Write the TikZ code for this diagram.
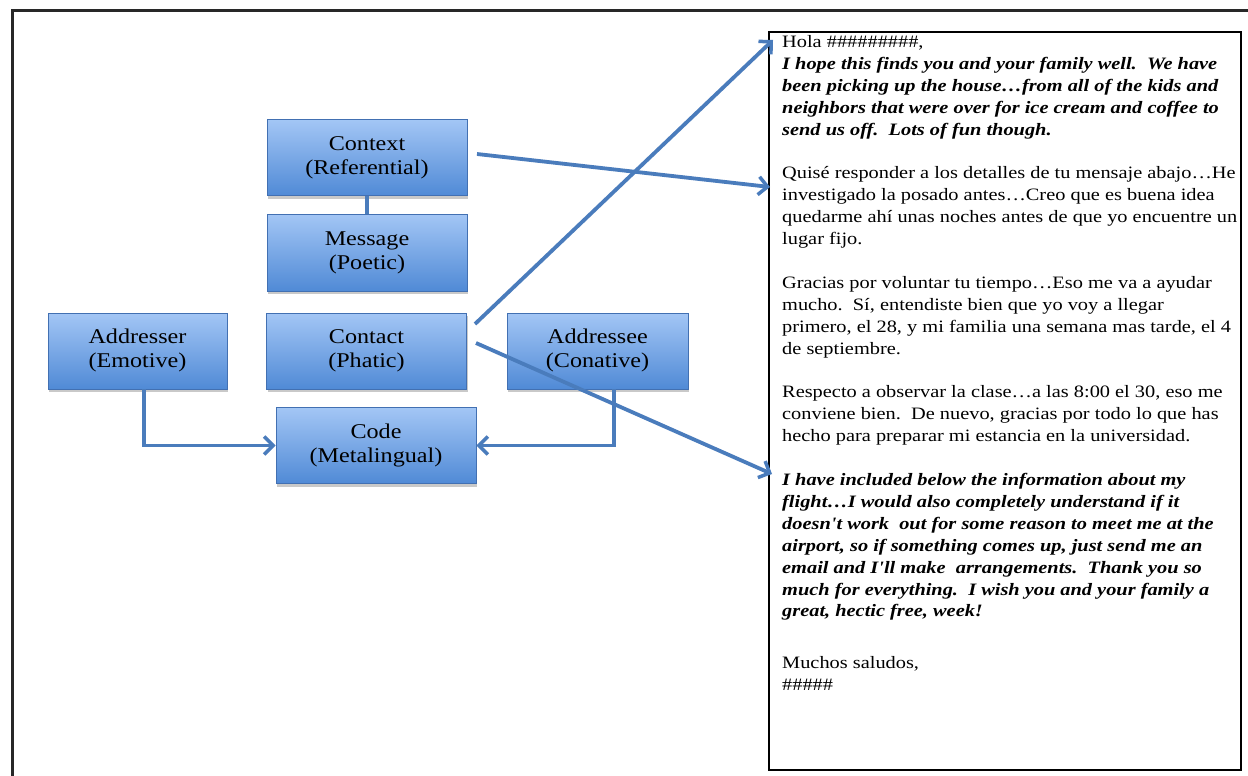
\documentclass[tikz,border=0pt]{standalone}
\usepackage{fontspec}
\setmainfont{Liberation Serif}
\usetikzlibrary{arrows.meta,shadows}
\definecolor{boxtop}{RGB}{163,198,245}
\definecolor{boxbot}{RGB}{80,138,214}
\definecolor{boxline}{RGB}{66,112,178}
\definecolor{arrblue}{RGB}{74,124,188}
\definecolor{framegray}{RGB}{40,40,40}
\newcommand\bi[1]{\textbf{\textit{#1}}}
\newcommand\hashnine{\#\#\#\#\#\#\#\#\#}
\newcommand\hashfive{\#\#\#\#\#}
\newcommand\apos{\textquotesingle}
\newcommand\twolines[2]{\scalebox{1.15}[1]{\begin{tabular}{@{}c@{}}#1\\#2\end{tabular}}}
\tikzset{
  fbox/.style={draw=boxline, line width=0.8pt, top color=boxtop, bottom color=boxbot,
    minimum height=76pt, inner sep=0pt, font=\fontsize{21}{24}\selectfont,
    drop shadow={shadow xshift=1pt, shadow yshift=-3pt, opacity=0.35, fill=black!60}},
  link/.style={draw=arrblue, line width=3.8pt},
  arr/.style={draw=arrblue, line width=3.8pt, -{Straight Barb[length=9pt,width=18pt,line width=3.5pt]}},
  framestyle/.style={draw=framegray, line width=3pt},
}
\begin{document}
\begin{tikzpicture}[x=1pt,y=-1pt]
\useasboundingbox[fill=white] (0,0) rectangle (1248,776);
\draw[framestyle] (12,776) -- (12,11) -- (1248,11);
% letter box
\node[draw=black, line width=1.7pt, minimum width=472pt, minimum height=738pt, inner sep=0pt, anchor=north west] (letterbox) at (768,31) {};
\node[anchor=north west, inner sep=0pt, font=\fontsize{17.4}{21.9}\selectfont] (letter) at (782,32) {\scalebox{1.17}[1]{\begin{tabular}{@{}l@{}}
Hola \hashnine,\\
\bi{I hope this finds you and your family well.\ \ We have}\\
\bi{been picking up the house…from all of the kids and}\\
\bi{neighbors that were over for ice cream and coffee to}\\
\bi{send us off.\ \ Lots of fun though.}\\
\\
Quisé responder a los detalles de tu mensaje abajo…He\\
investigado la posado antes…Creo que es buena idea\\
quedarme ahí unas noches antes de que yo encuentre un\\
lugar fijo.\\
\\
Gracias por voluntar tu tiempo…Eso me va a ayudar\\
mucho.\ \ Sí, entendiste bien que yo voy a llegar\\
primero, el 28, y mi familia una semana mas tarde, el 4\\
de septiembre.\\
\\
Respecto a observar la clase…a las 8:00 el 30, eso me\\
conviene bien.\ \ De nuevo, gracias por todo lo que has\\
hecho para preparar mi estancia en la universidad.\\
\\
\bi{I have included below the information about my}\\
\bi{flight…I would also completely understand if it}\\
\bi{doesn\apos t work\ \ out for some reason to meet me at the}\\
\bi{airport, so if something comes up, just send me an}\\
\bi{email and I\apos ll make\ \ arrangements.\ \ Thank you so}\\
\bi{much for everything.\ \ I wish you and your family a}\\
\bi{great, hectic free, week!}\\
\\[8pt]
Muchos saludos,\\
\hashfive
\end{tabular}}};
% boxes
\node[fbox, minimum width=200pt] (ctx) at (367,157.5) {\twolines{Context}{(Referential)}};
\node[fbox, minimum width=200pt, minimum height=77pt] (msg) at (367,252.5) {\twolines{Message}{(Poetic)}};
\node[fbox, minimum width=179pt] (adr) at (137.5,351) {\twolines{Addresser}{(Emotive)}};
\node[fbox, minimum width=200pt] (cnt) at (366.5,351) {\twolines{Contact}{(Phatic)}};
\node[fbox, minimum width=181pt] (ade) at (597.5,351) {\twolines{Addressee}{(Conative)}};
\node[fbox, minimum width=200pt] (code) at (376,445.5) {\twolines{Code}{(Metalingual)}};
% connectors
\draw[link] (ctx.south) -- (msg.north);
\draw[arr] ([xshift=6.5pt]adr.south) |- (code.west);
\draw[arr] ([xshift=16.5pt]ade.south) |- (code.east);
\coordinate (s1) at (477,154);
\coordinate (t1) at (770,187);
\coordinate (s2) at (475,324);
\coordinate (t2) at (773,40);
\coordinate (s3) at (476,343);
\coordinate (t3) at (772,474);
\draw[arr] (s1) -- (t1);
\draw[arr] (s2) -- (t2);
\draw[arr] (s3) -- (t3);
\end{tikzpicture}
\end{document}
